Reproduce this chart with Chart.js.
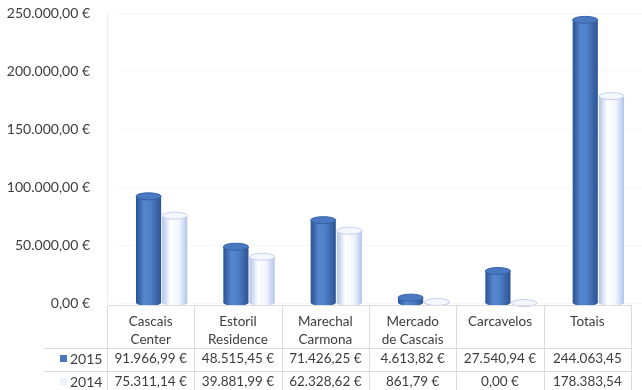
<!DOCTYPE html>
<html>
<head>
<meta charset="utf-8">
<script src="https://cdn.jsdelivr.net/npm/chart.js@4/dist/chart.umd.min.js"></script>
<style>
  html, body { margin: 0; padding: 0; background: #fff; }
  #wrap { width: 642px; height: 390px; }
</style>
</head>
<body>
<div id="wrap"><canvas id="vendas"></canvas></div>
<script>
// categorias (cabeçalho da tabela em duas linhas)
const categorias = [
  ['Cascais', 'Center'],
  ['Estoril', 'Residence'],
  ['Marechal', 'Carmona'],
  ['Mercado', 'de Cascais'],
  ['Carcavelos'],
  ['Totais'],
];
const anos = ['2015', '2014'];
const valores2015 = [91966.99, 48515.45, 71426.25, 4613.82, 27540.94, 244063.45];
const valores2014 = [75311.14, 39881.99, 62328.62, 861.79, 0, 178383.54];
const yTicks = [0, 50000, 100000, 150000, 200000, 250000];

const FONT = 'Lato';
const TXT = '#3d3d3d';

// 1234567.8 -> "1.234.567,80"
function fmt(v) {
  const [int, dec] = v.toFixed(2).split('.');
  return int.replace(/\B(?=(\d{3})+(?!\d))/g, '.') + ',' + dec;
}
const euro = (v) => fmt(v) + ' €';

const CAT_PCT = 0.6;
const BAR_PCT = 0.96;
const DEPTH = 11; // deslocamento da tabela em relação às barras (efeito 3D)

// gradiente horizontal para dar aspeto de cilindro
function cylinder(c, stops, fallback) {
  const chart = c.chart;
  const xs = chart.scales && chart.scales.x;
  if (!xs || !chart.chartArea) return fallback;
  const catW = (xs.right - xs.left) / categorias.length;
  const bw = catW * CAT_PCT / 2 * BAR_PCT;
  const center = xs.getPixelForValue(c.dataIndex);
  const left = c.datasetIndex === 0 ? center - bw : center;
  const g = chart.ctx.createLinearGradient(left, 0, left + bw, 0);
  stops.forEach(([p, col]) => g.addColorStop(p, col));
  return g;
}

const azul = [[0, '#2c5696'], [0.3, '#5686cf'], [0.55, '#5080c8'], [1, '#2a5190']];
const branco = [[0, '#adc0e8'], [0.35, '#ffffff'], [0.7, '#f1f5fd'], [1, '#b6c7ec']];

// topos e bases elípticos dos cilindros
const caps = {
  id: 'caps',
  beforeDatasetsDraw(chart) {
    const { ctx } = chart;
    // eixo vertical, muito ténue
    ctx.save();
    ctx.strokeStyle = '#ececec';
    ctx.beginPath();
    ctx.moveTo(chart.scales.x.left - DEPTH + 0.5, chart.chartArea.top);
    ctx.lineTo(chart.scales.x.left - DEPTH + 0.5, chart.chartArea.bottom);
    ctx.stroke();
    ctx.restore();
    chart.data.datasets.forEach((ds, di) => {
      chart.getDatasetMeta(di).data.forEach((el) => {
        ctx.save();
        ctx.fillStyle = el.options.backgroundColor;
        ctx.beginPath();
        ctx.ellipse(el.x, el.base, el.width / 2, 3.5, 0, 0, Math.PI * 2);
        ctx.fill();
        ctx.restore();
      });
    });
  },
  afterDatasetsDraw(chart) {
    const { ctx } = chart;
    chart.data.datasets.forEach((ds, di) => {
      chart.getDatasetMeta(di).data.forEach((el) => {
        ctx.save();
        ctx.beginPath();
        ctx.ellipse(el.x, el.y, el.width / 2, 3.5, 0, 0, Math.PI * 2);
        ctx.fillStyle = di === 0 ? '#4a79c1' : '#f4f7fd';
        ctx.strokeStyle = di === 0 ? '#3462a8' : '#c3d0ee';
        ctx.lineWidth = 1;
        ctx.fill();
        ctx.stroke();
        ctx.restore();
      });
    });
  },
};

// tabela de dados por baixo do gráfico
const tabela = {
  id: 'tabela',
  afterDraw(chart) {
    const { ctx } = chart;
    const xs = chart.scales.x;
    const n = categorias.length;
    const colW = (xs.right - xs.left) / n;
    const x0 = xs.left - DEPTH;
    const top = 305;
    const rowA = 348;
    const rowB = 371;
    ctx.save();
    ctx.strokeStyle = '#dcdcdc';
    ctx.lineWidth = 1;
    ctx.beginPath();
    ctx.moveTo(x0, top + 0.5); ctx.lineTo(x0 + colW * n, top + 0.5);
    ctx.moveTo(43, rowA + 0.5); ctx.lineTo(x0 + colW * n, rowA + 0.5);
    ctx.moveTo(43, rowB + 0.5); ctx.lineTo(x0 + colW * n, rowB + 0.5);
    for (let i = 0; i <= n; i++) {
      const x = Math.round(x0 + colW * i) + 0.5;
      ctx.moveTo(x, top); ctx.lineTo(x, 390);
    }
    ctx.stroke();

    ctx.fillStyle = TXT;
    ctx.font = `13.5px ${FONT}`;
    ctx.textAlign = 'center';
    ctx.textBaseline = 'middle';
    categorias.forEach((lines, i) => {
      const cx = x0 + colW * (i + 0.5);
      lines.forEach((t, k) => ctx.fillText(t, cx, 322 + k * 18));
      const last = i === n - 1;
      ctx.fillText(last ? fmt(valores2015[i]) : euro(valores2015[i]), cx, 359);
      ctx.fillText(last ? fmt(valores2014[i]) : euro(valores2014[i]), cx, 382);
    });

    // legenda dentro da tabela
    ctx.fillStyle = '#4a76bd';
    ctx.fillRect(60, 355, 7, 7);
    ctx.fillStyle = '#eef2fb';
    ctx.fillRect(60, 378, 7, 7);
    ctx.fillStyle = TXT;
    ctx.font = `14px ${FONT}`;
    ctx.textAlign = 'left';
    ctx.fillText(anos[0], 70, 359);
    ctx.fillText(anos[1], 70, 382);
    ctx.restore();
  },
};

new Chart(document.getElementById('vendas'), {
  type: 'bar',
  data: {
    labels: categorias,
    datasets: [
      {
        label: anos[0],
        data: valores2015,
        backgroundColor: (c) => cylinder(c, azul, '#4472c4'),
      },
      {
        label: anos[1],
        data: valores2014,
        backgroundColor: (c) => cylinder(c, branco, '#eef2fb'),
      },
    ],
  },
  options: {
    responsive: true,
    maintainAspectRatio: false,
    animation: false,
    categoryPercentage: CAT_PCT,
    barPercentage: BAR_PCT,
    layout: { padding: { top: 13, bottom: 87, left: 0, right: 0 } },
    plugins: {
      legend: { display: false },
      tooltip: { enabled: false },
    },
    scales: {
      x: { display: false },
      y: {
        min: 0,
        max: 250000,
        afterBuildTicks(scale) {
          scale.ticks = yTicks.map((v) => ({ value: v }));
        },
        afterFit(scale) {
          scale.width = 118;
          scale.paddingTop = 0;
          scale.paddingBottom = 0;
        },
        border: { display: false },
        grid: { drawTicks: false, color: 'rgba(0,0,0,0.03)' },
        ticks: {
          padding: 28,
          color: TXT,
          font: { family: FONT, size: 14 },
          callback: (v) => euro(v),
        },
      },
    },
  },
  plugins: [caps, tabela],
});
</script>
</body>
</html>
